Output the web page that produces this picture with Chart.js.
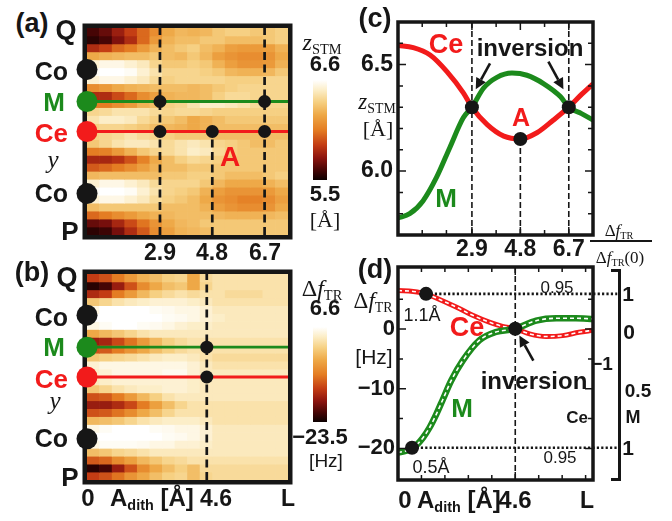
<!DOCTYPE html>
<html><head><meta charset="utf-8"><title>z_STM and Δf_TR maps</title>
<script src="https://cdn.jsdelivr.net/npm/chart.js@4.4.1/dist/chart.umd.min.js"></script>
<style>
html,body{margin:0;padding:0;background:#fff;}
#fig{position:relative;width:672px;height:521px;overflow:hidden;font-family:"Liberation Sans",Arial,Helvetica,sans-serif;color:#161616;}
#fig canvas{position:absolute;}
.t{position:absolute;white-space:nowrap;line-height:1;transform:translate(-50%,-50%);}
.t.r{transform:translate(-100%,-50%);}
.t.l{transform:translate(0,-50%);}
.b{font-weight:bold;}
.s{font-family:"Liberation Serif","Times New Roman",serif;}
.i{font-style:italic;}
.red{color:#f21b1b;} .grn{color:#1c8a1c;}
.sb{font-size:0.6em;position:relative;top:0.3em;font-style:normal;}
.hl{position:absolute;background:#161616;}
.br{position:absolute;box-sizing:border-box;border:3.5px solid #161616;border-left:none;}
</style></head><body><div id="fig">
<canvas id="ha" width="250" height="250" style="left:60px;top:10px"></canvas>
<canvas id="hb" width="250" height="250" style="left:60px;top:256px"></canvas>
<canvas id="ka" width="14" height="100" style="left:313px;top:80px"></canvas>
<canvas id="kb" width="14" height="95" style="left:313px;top:327px"></canvas>
<canvas id="pc" width="270" height="260" style="left:340px;top:10px"></canvas>
<canvas id="pd" width="290" height="266" style="left:340px;top:255px"></canvas>
<div class="hl" style="left:590px;top:240px;width:62px;height:1.5px"></div>
<div class="br" style="left:611px;top:269px;width:10px;height:212px"></div>
</div>
<script>
// ---------------- data ----------------
const heatX = [0.25, 7.55];   // A_dith range spanned by maps (Å)
const heatCols = ['0.48','0.94','1.39','1.85','2.30','2.76','3.21','3.67','4.13','4.58','5.04','5.49','5.95','6.41','6.86','7.32'];
const zRange = [5.5, 6.6];      // z_STM colour range (Å)
const dfRange = [-23.5, 6.6];   // Δf_TR colour range (Hz)
// rows from Q (top) to P (bottom)
const zStm = [
 [5.61,5.67,5.78,5.89,6.00,6.11,6.22,6.27,6.25,6.27,6.33,6.36,6.36,6.33,6.33,6.36],
 [5.56,5.61,5.72,5.83,6.00,6.16,6.25,6.29,6.29,6.33,6.33,6.29,6.29,6.29,6.33,6.36],
 [5.83,5.89,6.00,6.05,6.16,6.25,6.29,6.33,6.36,6.29,6.25,6.18,6.16,6.16,6.18,6.25],
 [6.22,6.25,6.27,6.29,6.29,6.33,6.29,6.27,6.33,6.27,6.18,6.14,6.11,6.11,6.14,6.22],
 [6.51,6.55,6.55,6.51,6.47,6.38,6.33,6.33,6.36,6.33,6.25,6.18,6.14,6.14,6.16,6.25],
 [6.58,6.60,6.60,6.58,6.51,6.44,6.38,6.38,6.38,6.36,6.33,6.27,6.25,6.25,6.27,6.33],
 [6.51,6.55,6.55,6.51,6.47,6.40,6.36,6.38,6.38,6.38,6.38,6.36,6.36,6.36,6.38,6.38],
 [6.11,6.16,6.22,6.25,6.27,6.29,6.29,6.29,6.27,6.29,6.33,6.36,6.38,6.38,6.38,6.38],
 [5.83,5.83,5.92,6.00,6.11,6.18,6.25,6.27,6.27,6.29,6.36,6.40,6.40,6.38,6.38,6.38],
 [6.05,6.05,6.11,6.16,6.25,6.29,6.36,6.38,6.44,6.49,6.49,6.47,6.44,6.40,6.38,6.38],
 [6.38,6.40,6.44,6.44,6.44,6.40,6.38,6.40,6.40,6.38,6.36,6.36,6.36,6.36,6.36,6.36],
 [6.44,6.49,6.49,6.47,6.40,6.36,6.33,6.29,6.22,6.25,6.29,6.33,6.33,6.33,6.33,6.33],
 [6.36,6.38,6.38,6.36,6.33,6.29,6.27,6.25,6.22,6.25,6.29,6.29,6.29,6.29,6.29,6.29],
 [6.36,6.38,6.40,6.44,6.40,6.38,6.36,6.33,6.33,6.33,6.29,6.29,6.29,6.29,6.29,6.29],
 [6.33,6.38,6.44,6.47,6.47,6.44,6.40,6.44,6.47,6.44,6.38,6.36,6.33,6.29,6.29,6.33],
 [6.05,6.07,6.16,6.25,6.33,6.38,6.40,6.44,6.49,6.47,6.40,6.36,6.33,6.33,6.33,6.33],
 [5.81,5.81,5.85,5.94,6.07,6.22,6.29,6.36,6.40,6.38,6.36,6.33,6.33,6.33,6.33,6.33],
 [5.96,6.00,6.05,6.11,6.18,6.25,6.29,6.29,6.33,6.33,6.33,6.33,6.33,6.33,6.33,6.33],
 [6.27,6.29,6.29,6.29,6.29,6.29,6.33,6.33,6.36,6.36,6.33,6.29,6.29,6.29,6.33,6.36],
 [6.51,6.55,6.55,6.51,6.47,6.40,6.38,6.38,6.38,6.33,6.27,6.22,6.22,6.22,6.25,6.29],
 [6.58,6.60,6.60,6.58,6.51,6.44,6.38,6.36,6.33,6.25,6.18,6.14,6.14,6.14,6.16,6.22],
 [6.51,6.55,6.55,6.51,6.47,6.40,6.36,6.33,6.29,6.22,6.14,6.11,6.07,6.07,6.11,6.18],
 [6.29,6.33,6.33,6.33,6.33,6.33,6.29,6.29,6.29,6.25,6.18,6.14,6.11,6.11,6.14,6.22],
 [6.00,6.05,6.11,6.16,6.22,6.25,6.27,6.29,6.29,6.29,6.27,6.25,6.25,6.25,6.27,6.29],
 [5.67,5.70,5.81,5.92,6.03,6.14,6.22,6.27,6.29,6.33,6.33,6.33,6.33,6.33,6.33,6.33],
 [5.56,5.59,5.70,5.83,5.96,6.11,6.18,6.25,6.27,6.29,6.33,6.33,6.33,6.33,6.33,6.33]
];
const dfTr = [
 [-13.0,-11.5,-8.5,-5.4,-3.0,-1.8,0.0,0.6,-3.9,1.2,2.1,2.1,2.1,2.1,2.1,2.1],
 [-22.0,-20.5,-16.0,-11.5,-6.9,-3.9,-1.8,-0.9,-3.9,0.6,2.1,2.1,2.1,2.1,2.1,2.1],
 [-14.5,-13.0,-8.5,-5.4,-2.4,0.0,1.2,2.1,1.2,2.1,2.1,1.2,1.2,1.2,2.1,2.1],
 [-0.9,0.6,2.1,3.0,3.6,4.2,4.2,4.2,3.6,3.0,2.1,2.1,2.1,2.1,2.1,2.1],
 [5.1,6.6,6.6,6.6,6.6,6.0,5.7,5.1,5.1,4.2,3.0,3.0,3.0,3.0,3.0,3.0],
 [6.6,6.6,6.6,6.6,6.6,6.6,6.0,5.7,5.1,4.2,3.6,3.0,3.0,3.0,3.0,3.0],
 [5.1,6.0,6.6,6.6,6.0,5.7,5.1,4.2,3.6,3.6,3.0,3.0,3.0,3.0,3.0,3.0],
 [-3.9,-2.4,-0.9,0.6,2.1,3.0,3.0,3.0,3.0,3.0,3.0,3.0,3.0,3.0,3.0,3.0],
 [-16.0,-15.1,-12.1,-9.1,-5.4,-2.4,0.0,1.2,2.1,2.1,2.1,2.1,2.1,2.1,2.1,2.1],
 [-11.5,-10.9,-8.5,-6.0,-3.9,-1.8,0.0,1.2,2.1,2.1,2.1,2.1,2.1,2.1,2.1,2.1],
 [-0.9,0.0,0.6,1.2,2.1,3.0,3.6,3.6,3.0,2.1,1.2,1.2,1.2,1.2,1.2,1.2],
 [4.2,5.1,5.1,5.1,5.1,5.1,5.1,5.1,4.2,3.0,2.1,2.1,2.1,2.1,2.1,2.1],
 [3.6,4.2,5.1,5.1,5.1,5.1,5.7,5.7,4.2,3.0,3.0,3.0,3.0,3.0,3.0,3.0],
 [3.0,3.6,4.2,4.2,4.2,4.2,4.2,4.2,3.6,3.0,3.0,3.0,3.0,3.0,3.0,3.0],
 [-0.9,0.6,2.1,3.0,3.6,3.6,4.2,4.2,3.6,3.0,3.0,3.0,3.0,3.0,3.0,3.0],
 [-11.5,-10.9,-8.5,-5.4,-2.4,0.0,2.1,3.0,3.0,3.0,3.0,3.0,3.0,3.0,3.0,3.0],
 [-16.0,-16.0,-14.5,-12.1,-8.5,-4.8,-1.8,0.6,2.1,2.1,2.1,2.1,2.1,2.1,2.1,2.1],
 [-11.5,-10.9,-9.1,-6.9,-3.9,-1.8,0.6,2.1,2.1,2.1,2.1,2.1,2.1,2.1,2.1,2.1],
 [-2.4,-1.8,-0.9,0.6,2.1,3.0,3.6,3.6,3.6,3.0,2.1,2.1,2.1,2.1,2.1,2.1],
 [5.1,6.0,6.6,6.6,6.6,6.0,5.7,5.1,5.1,4.2,3.0,3.0,3.0,3.0,3.0,3.0],
 [6.6,6.6,6.6,6.6,6.6,6.6,6.0,5.7,5.1,4.2,3.0,3.0,3.0,3.0,3.0,3.0],
 [5.1,6.0,6.0,6.0,5.7,5.1,5.1,4.2,4.2,3.6,3.0,3.0,3.0,3.0,3.0,3.0],
 [-1.8,-0.9,0.6,1.2,2.1,3.0,3.0,3.0,3.0,3.0,3.0,3.0,3.0,3.0,3.0,3.0],
 [-10.9,-10.0,-6.9,-4.8,-2.4,-0.9,0.6,1.2,2.1,2.1,2.1,2.1,2.1,2.1,2.1,2.1],
 [-22.0,-20.5,-16.0,-11.5,-6.9,-3.9,-1.8,0.0,-1.8,1.2,1.2,1.2,1.2,1.2,1.2,1.2],
 [-13.0,-11.5,-9.1,-6.0,-3.9,-1.8,0.0,0.6,-1.8,0.6,1.2,1.2,1.2,1.2,1.2,1.2]
];
// atom sites along y (P = 0 ... Q = 1)
const atomPos = [0.8, 0.645, 0.5, 0.2];   // Co, M, Ce, Co
const posM = 0.645, posCe = 0.5;
// (a) cuts and marked points
const aCutX = [2.9, 4.8, 6.7];
const aCutTop = [1, 0.5, 1];
const aDotM = [2.9, 6.7];
const aDotCe = [2.9, 4.8, 6.7];
// (b)
const bCutX = [4.6];
const bCutTop = [1];
const bDotM = [4.6];
const bDotCe = [4.6];
// (c) z_STM along the lines
const cCeX = [0, 0.6, 1.26, 1.92, 2.57, 2.9, 3.5, 4.15, 4.8, 5.45, 6.1, 6.7, 7.2, 7.65];
const cCeZ = [6.59, 6.58, 6.545, 6.467, 6.366, 6.30, 6.218, 6.164, 6.151, 6.18, 6.24, 6.30, 6.36, 6.41];
const cMX = [0, 0.46, 0.98, 1.51, 2.03, 2.56, 2.9, 3.36, 3.88, 4.47, 5.06, 5.72, 6.37, 6.7, 7.2, 7.65];
const cMZ = [5.78, 5.80, 5.86, 5.97, 6.11, 6.25, 6.30, 6.39, 6.44, 6.46, 6.45, 6.41, 6.35, 6.30, 6.27, 6.24];
const cDotX = [2.9, 4.8, 6.7];
const cDotZ = [6.30, 6.151, 6.30];
const cCutTop = [6.7, 6.151, 6.7];
const cRange = [5.7, 6.7], cXRange = [0, 7.65];
const cXTicks = [0.95, 1.9, 2.9, 3.85, 4.8, 5.75, 6.7];
const cXText  = ['', '', '2.9', '', '4.8', '', '6.7'];
const cYTicks = [5.8, 5.9, 6.0, 6.1, 6.2, 6.3, 6.4, 6.5, 6.6];
const cYText  = ['', '', '6.0', '', '', '', '', '6.5', ''];
// (d) Δf_TR along the lines
const dCeX = [0, 0.6, 1.1, 1.63, 2.28, 2.93, 3.58, 4.1, 4.6, 5.16, 5.81, 6.46, 7.1, 7.65];
const dCeF = [6.45, 6.3, 5.9, 4.95, 3.7, 2.3, 1.15, 0.45, 0.05, -0.8, -1.25, -1.1, -0.55, -0.2];
const dMX = [0, 0.33, 0.6, 0.98, 1.24, 1.5, 1.76, 2.08, 2.54, 3.19, 3.84, 4.6, 5.42, 6.2, 6.98, 7.65];
const dMF = [-20.7, -20.4, -19.9, -18.2, -16.5, -14.3, -11.8, -8.7, -5.3, -1.9, -0.5, 0.05, 1.4, 1.8, 1.8, 1.7];
const dDotX = [1.1, 0.55, 4.6];
const dDotF = [5.9, -19.9, 0.05];
const dLevelF = [5.9, -19.9];       // 0.95 levels
const dLevelEnd = 8.6;
const dCutX = [4.6];
const dRange = [-25.3, 10.4], dXRange = [0, 7.65];
const dXTicks = [0.92, 1.84, 2.76, 3.68, 4.6, 5.52, 6.44, 7.36];
const dYTicks = [-20, -15, -10, -5, 0, 5];
const dYText  = ['\u221220', '', '\u221210', '', '0', ''];

// ---------------- styles ----------------
const INK = '#161616', RED = '#f21b1b', GREEN = '#1c8a1c';
const SANS = '"Liberation Sans", Arial, sans-serif';
const CMAP = [[0,[12,0,0]],[0.1,[70,5,5]],[0.22,[140,20,15]],[0.35,[195,60,20]],[0.5,[228,125,35]],[0.65,[238,168,70]],[0.78,[246,208,130]],[0.9,[252,238,200]],[1,[255,255,255]]];
function cmap(t) {
  t = Math.max(0, Math.min(1, t));
  for (let k = 1; k < CMAP.length; k++) {
    if (t <= CMAP[k][0]) {
      const [t0, c0] = CMAP[k - 1], [t1, c1] = CMAP[k];
      const f = (t - t0) / (t1 - t0);
      return 'rgb(' + c0.map((c, i) => Math.round(c + (c1[i] - c) * f)).join(',') + ')';
    }
  }
  return 'rgb(255,255,255)';
}
const pts = (xs, ys) => xs.map((x, i) => ({x, y: ys[i]}));
const base = {responsive: false, animation: false, events: [],
  plugins: {legend: {display: false}, tooltip: {enabled: false}}};

function boxPlugin(xt, xMaj, yt, yMaj) {
  return {id: 'box', afterDatasetsDraw(chart) {
    const {ctx, chartArea: a, scales: {x, y}} = chart;
    ctx.save(); ctx.strokeStyle = INK; ctx.lineWidth = 1.5; ctx.beginPath();
    xt.forEach(v => { const p = x.getPixelForValue(v), l = xMaj.includes(v) ? 8 : 5;
      ctx.moveTo(p, a.bottom); ctx.lineTo(p, a.bottom - l); ctx.moveTo(p, a.top); ctx.lineTo(p, a.top + l); });
    yt.forEach(v => { const p = y.getPixelForValue(v), l = yMaj.includes(v) ? 8 : 5;
      ctx.moveTo(a.left, p); ctx.lineTo(a.left + l, p); ctx.moveTo(a.right, p); ctx.lineTo(a.right - l, p); });
    ctx.stroke();
    ctx.lineWidth = 3.5; ctx.strokeRect(a.left, a.top, a.width, a.height);
    ctx.restore();
  }};
}
function arrowPlugin(list) {
  return {id: 'arrows', afterDatasetsDraw(chart) {
    const {ctx, scales: {x, y}} = chart;
    ctx.save(); ctx.strokeStyle = INK; ctx.fillStyle = INK; ctx.lineWidth = 2.6;
    list.forEach(([x1, y1, x2, y2]) => {
      const X1 = x.getPixelForValue(x1), Y1 = y.getPixelForValue(y1);
      const X2 = x.getPixelForValue(x2), Y2 = y.getPixelForValue(y2);
      const an = Math.atan2(Y2 - Y1, X2 - X1), hl = 11, hw = 5.5;
      const bx = X2 - hl * Math.cos(an), by = Y2 - hl * Math.sin(an);
      ctx.beginPath(); ctx.moveTo(X1, Y1); ctx.lineTo(bx, by); ctx.stroke();
      ctx.beginPath(); ctx.moveTo(X2, Y2);
      ctx.lineTo(bx + hw * Math.sin(an), by - hw * Math.cos(an));
      ctx.lineTo(bx - hw * Math.sin(an), by + hw * Math.cos(an));
      ctx.closePath(); ctx.fill();
    });
    ctx.restore();
  }};
}

// ---------------- heat maps ----------------
const HEAT_W = 250, HEAT_H = 250, FRAME = 4.5;
function makeHeat(id, grid, range, cutX, cutTop, dotM, dotCe, pad) {
  const n = grid.length, nc = heatCols.length;
  const span = heatX[1] - heatX[0];
  const colX = heatCols.map((_, j) => heatX[0] + (j + 0.5) * span / nc);
  const cells = grid.map((row, i) => ({
    type: 'bar', xAxisID: 'x', yAxisID: 'y', order: 20, grouped: false, clip: 0,
    barPercentage: 1, categoryPercentage: 1, borderWidth: 0,
    data: row.map((v, j) => ({x: colX[j], y: [1 - (i + 1) / n, 1 - i / n]})),
    backgroundColor: row.map(v => cmap((v - range[0]) / (range[1] - range[0])))
  }));
  const line = (data, color, w, dash, order, extra) => Object.assign({type: 'line', xAxisID: 'x', yAxisID: 'y', data,
    borderColor: color, borderWidth: w, borderDash: dash, pointRadius: 0, order, fill: false}, extra || {});
  // outer frame, drawn just outside the plot area
  const ex = (FRAME / 2) * span / (HEAT_W - pad.left - pad.right);
  const ey = (FRAME / 2) / (HEAT_H - pad.top - pad.bottom);
  const x0 = heatX[0] - ex, x1 = heatX[1] + ex, y0 = -ey, y1 = 1 + ey;
  const frame = line([{x: x0, y: y0}, {x: x0, y: y1}, {x: x1, y: y1}, {x: x1, y: y0}, {x: x0, y: y0}],
    INK, FRAME, [], 6, {clip: false, borderJoinStyle: 'miter', borderCapStyle: 'square'});
  const over = [
    frame,
    line([{x: heatX[0], y: posM}, {x: heatX[1], y: posM}], GREEN, 2.8, [], 3),
    line([{x: heatX[0], y: posCe}, {x: heatX[1], y: posCe}], RED, 2.8, [], 3),
    ...cutX.map((x, i) => line([{x, y: 0}, {x, y: cutTop[i]}], INK, 2.7, [8, 4.5], 2)),
    {type: 'line', xAxisID: 'x', yAxisID: 'y', showLine: false, order: 1,
     data: [...dotM.map(x => ({x, y: posM})), ...dotCe.map(x => ({x, y: posCe}))],
     pointRadius: 6.5, pointBackgroundColor: INK, pointBorderWidth: 0},
    {type: 'line', xAxisID: 'x', yAxisID: 'y', showLine: false, order: 0, clip: false,
     data: atomPos.map(y => ({x: heatX[0], y})), pointRadius: 10.5,
     pointBackgroundColor: [INK, GREEN, RED, INK], pointBorderWidth: 0}
  ];
  new Chart(document.getElementById(id), {
    type: 'bar',
    data: {datasets: [...cells, ...over]},
    options: Object.assign({}, base, {
      layout: {padding: pad},
      scales: {
        x: {type: 'linear', display: false, offset: false, min: heatX[0], max: heatX[1],
            afterBuildTicks: s => { s.ticks = [{value: heatX[0]}, {value: heatX[1]}]; }},
        y: {type: 'linear', display: false, offset: false, min: 0, max: 1}
      }
    })
  });
}
makeHeat('ha', zStm, zRange, aCutX, aCutTop, aDotM, aDotCe, {left: 27, right: 22, top: 18, bottom: 25});
makeHeat('hb', dfTr, dfRange, bCutX, bCutTop, bDotM, bDotCe, {left: 27, right: 22, top: 18, bottom: 26});

// ---------------- colour bars ----------------
function makeBar(id, range) {
  new Chart(document.getElementById(id), {
    type: 'bar',
    data: {labels: [''], datasets: [{data: [range], barPercentage: 1, categoryPercentage: 1, borderWidth: 0,
      backgroundColor: c => {
        const a = c.chart.chartArea; if (!a) return '#000';
        const g = c.chart.ctx.createLinearGradient(0, a.bottom, 0, a.top);
        CMAP.forEach(([t, rgb]) => g.addColorStop(t, 'rgb(' + rgb.join(',') + ')'));
        return g;
      }}]},
    options: Object.assign({}, base, {layout: {padding: 0},
      scales: {x: {display: false}, y: {display: false, min: range[0], max: range[1]}}})
  });
}
makeBar('ka', zRange);
makeBar('kb', dfRange);

// ---------------- line panels ----------------
const lineDs = (data, color, w, dash, order, extra) => Object.assign({data, borderColor: color, borderWidth: w,
  borderDash: dash, pointRadius: 0, order, fill: false}, extra || {});
const tickFont = size => ({family: SANS, size, weight: 'bold'});

new Chart(document.getElementById('pc'), {
  type: 'line',
  data: {datasets: [
    lineDs(pts(cCeX, cCeZ), RED, 5, [], 4, {cubicInterpolationMode: 'monotone'}),
    lineDs(pts(cMX, cMZ), GREEN, 5, [], 3, {cubicInterpolationMode: 'monotone'}),
    ...cDotX.map((x, i) => lineDs([{x, y: cRange[0]}, {x, y: cCutTop[i]}], INK, 1.6, [6, 3], 5)),
    {data: pts(cDotX, cDotZ), showLine: false, pointRadius: 7, pointBackgroundColor: INK, pointBorderWidth: 0, order: 0}
  ]},
  options: Object.assign({}, base, {
    layout: {padding: {left: 0, top: 12, right: 17, bottom: 0}},
    scales: {
      x: {type: 'linear', min: cXRange[0], max: cXRange[1],
        afterBuildTicks: s => { s.ticks = cXTicks.map(v => ({value: v})); },
        afterFit: s => { s.height = 35; s.paddingLeft = 0; s.paddingRight = 0; },
        grid: {display: false, drawTicks: false}, border: {display: false},
        ticks: {autoSkip: false, maxRotation: 0, padding: 1, color: INK, font: tickFont(23),
          callback: (v, i) => cXText[i]}},
      y: {type: 'linear', min: cRange[0], max: cRange[1],
        afterBuildTicks: s => { s.ticks = cYTicks.map(v => ({value: v})); },
        afterFit: s => { s.width = 58; s.paddingTop = 0; s.paddingBottom = 0; },
        grid: {display: false, drawTicks: false}, border: {display: false},
        ticks: {autoSkip: false, padding: 5, color: INK, font: tickFont(23),
          callback: (v, i) => cYText[i]}}
    }
  }),
  plugins: [boxPlugin(cXTicks, [2.9, 4.8, 6.7], cYTicks, [6.0, 6.5]),
            arrowPlugin([[3.61, 6.506, 3.05, 6.384], [5.90, 6.514, 6.49, 6.384]])]
});

new Chart(document.getElementById('pd'), {
  type: 'line',
  data: {datasets: [
    lineDs(pts(dCeX, dCeF), RED, 5, [], 6, {cubicInterpolationMode: 'monotone'}),
    lineDs(pts(dCeX, dCeF), '#ffffff', 1.6, [4, 3], 5, {cubicInterpolationMode: 'monotone'}),
    lineDs(pts(dMX, dMF), GREEN, 6.5, [], 4, {cubicInterpolationMode: 'monotone'}),
    lineDs(pts(dMX, dMF), '#ffffff', 1.6, [4, 3], 3, {cubicInterpolationMode: 'monotone'}),
    ...dCutX.map(x => lineDs([{x, y: dRange[0]}, {x, y: dRange[1]}], INK, 1.6, [6, 3], 7)),
    ...dLevelF.map((f, i) => lineDs([{x: dDotX[i], y: f}, {x: dLevelEnd, y: f}], INK, 2.6, [2.2, 2.2], 2, {clip: false})),
    {data: pts(dDotX, dDotF), showLine: false, pointRadius: 7, pointBackgroundColor: INK, pointBorderWidth: 0, order: 0}
  ]},
  options: Object.assign({}, base, {
    layout: {padding: {left: 0, top: 12, right: 37, bottom: 41}},
    scales: {
      x: {type: 'linear', display: false, min: dXRange[0], max: dXRange[1]},
      y: {type: 'linear', min: dRange[0], max: dRange[1],
        afterBuildTicks: s => { s.ticks = dYTicks.map(v => ({value: v})); },
        afterFit: s => { s.width = 58; s.paddingTop = 0; s.paddingBottom = 0; },
        grid: {display: false, drawTicks: false}, border: {display: false},
        ticks: {autoSkip: false, padding: 3, color: INK, font: tickFont(22),
          callback: (v, i) => dYText[i]}}
    }
  }),
  plugins: [boxPlugin(dXTicks, [4.6], dYTicks, [-20, -10, 0]),
            arrowPlugin([[5.31, -5.29, 4.76, -1.09]])]
});

// ---------------- text ----------------
const fTR = 'Δ<i>f</i><span class="sb">TR</span>';
const zS = '<i>z</i><span class="sb">STM</span>';
const texts = [
 ['(a)', 32, 23, 'b', 27], ['Q', 66, 30, 'b', 27],
 ['Co', 68, 71, 'b r', 25], ['M', 54, 102, 'b grn', 26], ['Ce', 68, 133, 'b r red', 26],
 ['y', 53, 159, 's i', 25], ['Co', 68, 193, 'b r', 25], ['P', 70, 231, 'b', 26],
 [zS, 322, 42, 's', 24], ['6.6', 325, 64, 'b', 22], ['5.5', 325, 194, 'b', 22], ['[Å]', 325, 220, 's', 22],
 ['A', 230, 157, 'b red', 28],
 ['2.9', 160, 252, 'b', 23], ['4.8', 212, 252, 'b', 23], ['6.7', 265, 252, 'b', 23],
 ['(b)', 32, 272, 'b', 27], ['Q', 67, 277, 'b', 27],
 ['Co', 68, 317, 'b r', 25], ['M', 54, 347, 'b grn', 26], ['Ce', 68, 379, 'b r red', 26],
 ['y', 55, 400, 's i', 25], ['Co', 68, 438, 'b r', 25], ['P', 70, 477, 'b', 26],
 [fTR, 322, 288, 's', 24], ['6.6', 325, 308, 'b', 22], ['\u221223.5', 320, 437, 'b', 22], ['[Hz]', 326, 460, '', 19],
 ['0', 88, 498, 'b', 24], ['A<span class="sb">dith</span> [Å]', 110, 498, 'b l', 24],
 ['4.6', 216, 498, 'b', 23], ['L', 288, 498, 'b', 23],
 ['(c)', 375, 18, 'b', 27], ['Ce', 446, 44, 'b red', 27], ['inversion', 530, 48, 'b', 24],
 ['A', 521, 117, 'b red', 25], ['M', 446, 198, 'b grn', 26],
 [zS, 377, 101, 's', 23], ['[Å]', 378, 129, 's', 22],
 [fTR, 619, 230, 's', 17], [fTR + '(0)', 620, 257, 's', 17],
 ['(d)', 375, 269, 'b', 27], [fTR, 373, 300, 's', 23], ['[Hz]', 374, 356, '', 21],
 ['0.95', 557, 287, '', 17], ['0.95', 560, 457, '', 17],
 ['1.1Å', 422, 315, '', 18], ['0.5Å', 431, 467, '', 18],
 ['Ce', 467, 327, 'b red', 27], ['M', 462, 408, 'b grn', 26],
 ['inversion', 534, 381, 'b', 24], ['Ce', 577, 417, 'b', 17],
 ['1', 628, 293, 'b', 21], ['0', 629, 331, 'b', 21], ['\u22121', 602, 363, 'b', 19],
 ['0.5', 638, 390, 'b', 19], ['M', 633, 417, 'b', 18], ['1', 628, 447, 'b', 21],
 ['0', 405, 500, 'b', 24], ['A<span class="sb">dith</span> [Å]', 417, 500, 'b l', 24],
 ['4.6', 515, 500, 'b', 24], ['L', 587, 500, 'b', 23]
];
const fig = document.getElementById('fig');
texts.forEach(([html, x, y, cls, size]) => {
  const d = document.createElement('div');
  d.className = 't ' + cls;
  d.style.left = x + 'px'; d.style.top = y + 'px'; d.style.fontSize = size + 'px';
  d.innerHTML = html;
  fig.appendChild(d);
});
</script></body></html>
